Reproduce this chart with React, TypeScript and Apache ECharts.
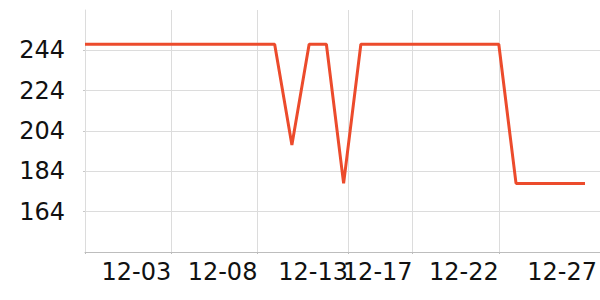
import React, { useEffect, useRef } from 'react';
import * as echarts from 'echarts';

// Day index 0 = 11-28
const dates = [
  '11-28', '11-29', '11-30', '12-01', '12-02', '12-03', '12-04', '12-05', '12-06', '12-07',
  '12-08', '12-09', '12-10', '12-11', '12-12', '12-13', '12-14', '12-15', '12-16', '12-17',
  '12-18', '12-19', '12-20', '12-21', '12-22', '12-23', '12-24', '12-25', '12-26', '12-27',
];
const values = [
  247, 247, 247, 247, 247, 247, 247, 247, 247, 247,
  247, 247, 197, 247, 247, 178, 247, 247, 247, 247,
  247, 247, 247, 247, 247, 178, 178, 178, 178, 178,
];
const xTickPositions = [0, 5, 10, 15.25, 19, 24, 29.7];
const xTickLabels = ['', '12-03', '12-08', '12-13', '12-17', '12-22', '12-27'];
const yTickValues = [164, 184, 204, 224, 244];

export default function App() {
  const ref = useRef<HTMLDivElement>(null);
  useEffect(() => {
    if (!ref.current) return;
    const chart = echarts.init(ref.current, null, { renderer: 'svg' });
    const font = 'DejaVu Sans';
    chart.setOption({
      animation: false,
      grid: { left: 85, right: 0, top: 10, bottom: 48, containLabel: false, outerBoundsMode: 'none' },
      xAxis: {
        type: 'value',
        min: 0,
        max: 29.87,
        axisLine: { show: true, lineStyle: { color: '#bdbdbd', width: 1 } },
        axisTick: { show: true, length: 2, lineStyle: { color: '#bdbdbd' }, customValues: xTickPositions.slice(0, 6) },
        splitLine: { show: true, lineStyle: { color: '#dcdcdc', width: 1 } },
        axisLabel: {
          customValues: xTickPositions.slice(1),
          align: 'right',
          margin: 8,
          fontSize: 24,
          fontFamily: font,
          color: '#111',
          formatter: (v: number) => {
            const i = xTickPositions.findIndex((p) => Math.abs(p - v) < 1e-6);
            return i >= 0 ? xTickLabels[i] : '';
          },
        },
      },
      yAxis: {
        type: 'value',
        min: 144,
        max: 264,
        interval: 20,
        axisLine: { show: true, lineStyle: { color: '#dcdcdc', width: 1 } },
        axisTick: { show: true, length: 2, lineStyle: { color: '#c8c8c8' }, customValues: yTickValues },
        splitLine: { show: true, lineStyle: { color: '#dcdcdc', width: 1 } },
        axisLabel: {
          customValues: yTickValues,
          margin: 20,
          fontSize: 24,
          fontFamily: font,
          color: '#111',
        },
      },
      series: [
        {
          type: 'line',
          data: values.map((v, i) => [i, v]),
          name: 'value',
          symbol: 'none',
          lineStyle: { color: '#EC4B2C', width: 3 },
          itemStyle: { color: '#EC4B2C' },
        },
      ],
    });
    return () => chart.dispose();
  }, []);
  return (
    <div
      ref={ref}
      style={{ position: 'absolute', left: 0, top: 0, width: 600, height: 300 }}
    />
  );
}
